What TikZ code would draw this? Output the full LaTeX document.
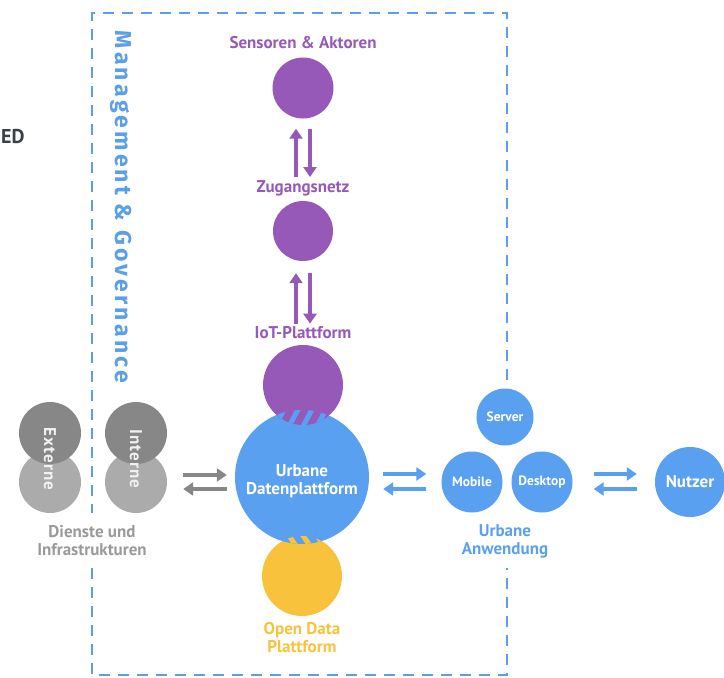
\documentclass[tikz,border=0pt]{standalone}
\usepackage{fontspec}
\setmainfont{PT Sans}
\setsansfont{Fira Sans}
\usetikzlibrary{arrows.meta,positioning}
\definecolor{udpblue}{HTML}{5AA0F0}
\definecolor{boxblue}{HTML}{5B9FE6}
\definecolor{iotpurple}{HTML}{9659B8}
\definecolor{odyellow}{HTML}{F9C23C}
\definecolor{extdark}{HTML}{878787}
\definecolor{extlight}{HTML}{ABABAB}
\definecolor{labgray}{HTML}{9A9A9A}
\definecolor{edgray}{HTML}{3A3F4A}
\tikzset{
  dot/.style={circle,inner sep=0pt,minimum size=#1},
  lbl/.style={font=\bfseries\fontsize{17}{18}\selectfont,align=center,inner sep=0pt},
  inlbl/.style={font=\bfseries\fontsize{13.5}{15}\selectfont,white,inner sep=0pt},
  rotlbl/.style={rotate=-90,inner sep=0pt,white!88!extdark,font=\bfseries\fontsize{17}{19}\selectfont\addfontfeatures{LetterSpace=6}},
  boxline/.style={boxblue,line width=2.6pt,dash pattern=on 11pt off 8pt},
  parr/.style={iotpurple,line width=4.5pt,-{Triangle[length=10pt,width=13pt]}},
  barr/.style={udpblue,line width=4.5pt,-{Triangle[length=10pt,width=13pt]}},
  garr/.style={extdark,line width=4.5pt,-{Triangle[length=10pt,width=13pt]}}
}
\begin{document}
\begin{tikzpicture}[x=1pt,y=-1pt]
\useasboundingbox (0,0) rectangle (724,678);
%Management & Governance
\draw[boxline] (507,380) -- (507,13) -- (92,13) -- (92,513);
\draw[boxline] (92,568) -- (92,675) -- (507,675) -- (507,568);
\node[rotate=-90,boxblue,inner sep=0pt,font=\sffamily\bfseries\fontsize{23}{26}\selectfont\addfontfeatures{LetterSpace=14}] (mgmt) at (121,207) {Management \& Governance};
\node[edgray,inner sep=0pt,anchor=west,font=\bfseries\fontsize{20}{22}\selectfont] (ed) at (1,137) {ED};
%IoT
\node[dot=61pt,fill=iotpurple] (sens) at (303,88) {};
\node[lbl,iotpurple] (senslab) at (303,43) {Sensoren \& Aktoren};
\node[dot=60pt,fill=iotpurple] (zug) at (303,231) {};
\node[lbl,iotpurple] (zuglab) at (303,188) {Zugangsnetz};
\node[dot=80pt,fill=iotpurple] (iot) at (303,385) {};
\node[lbl,iotpurple] (iotlab) at (303,333) {IoT-Plattform};
\draw[parr,shorten <=3pt,shorten >=10pt] ([xshift=-7pt]zuglab.north) -- ([xshift=-7pt]sens.south);
\draw[parr,shorten <=10pt,shorten >=3pt] ([xshift=7pt]sens.south) -- ([xshift=7pt]zuglab.north);
\draw[parr,shorten <=3pt,shorten >=12pt] ([xshift=-7pt]iotlab.north) -- ([xshift=-7pt]zug.south);
\draw[parr,shorten <=12pt,shorten >=3pt] ([xshift=7pt]zug.south) -- ([xshift=7pt]iotlab.north);
%Open Data
\node[dot=80pt,fill=odyellow] (od) at (302,576) {};
\node[lbl,odyellow] (odlab) at (302,638) {Open Data\\Plattform};
%Datenplattform
\node[dot=134pt,fill=udpblue] (daten) at (302,477) {};
\node[lbl,white] (datenlab) at (302,481) {Urbane\\Datenplattform};
%stripes
\begin{scope}
  \clip (303,385) circle[radius=40pt];
  \clip (302,477) circle[radius=67pt];
  \fill[iotpurple] (250,400) rectangle (360,440);
  \foreach \s in {272,286,300,314}
    \draw[udpblue,line width=5pt] (\s,432) -- (\s+16,402);
\end{scope}
\begin{scope}
  \clip (302,477) circle[radius=67pt];
  \clip (302,576) circle[radius=40pt];
  \foreach \s in {270,284,298,312}
    \draw[odyellow,line width=5pt] (\s,528) -- (\s+16,552);
\end{scope}
%Dienste und Infrastrukturen
\node[dot=62pt,fill=extlight] (extb) at (50,482) {};
\node[dot=62pt,fill=extdark] (extt) at (50,433) {};
\node[rotlbl] (extlab) at (50,459) {Externe};
\node[dot=62pt,fill=extlight] (intb) at (136,482) {};
\node[dot=62pt,fill=extdark] (intt) at (136,433) {};
\node[rotlbl] (intlab) at (136,459) {Interne};
\node[lbl,labgray] (dilab) at (92,541) {Dienste und\\Infrastrukturen};
\draw[garr,shorten <=16pt,shorten >=8pt] ([yshift=2pt]daten.west -| intb.east) -- ([yshift=2pt]daten.west);
\draw[garr,shorten <=8pt,shorten >=16pt] ([yshift=-12pt]daten.west) -- ([yshift=-12pt]daten.west -| intb.east);
%Urbane Anwendung
\node[dot=57pt,fill=udpblue] (server) at (505,417) {};
\node[inlbl] at (server) {Server};
\node[dot=61pt,fill=udpblue] (mobile) at (472,482) {};
\node[inlbl] at (mobile) {Mobile};
\node[dot=61pt,fill=udpblue] (desktop) at (542,482) {};
\node[inlbl] at (desktop) {Desktop};
\node[lbl,udpblue] (anwlab) at (505,541) {Urbane\\Anwendung};
\draw[barr,shorten <=14pt,shorten >=15pt] ([yshift=3pt]daten.east) -- ([yshift=3pt]daten.east -| mobile.west);
\draw[barr,shorten <=15pt,shorten >=14pt] ([yshift=-12pt]daten.east -| mobile.west) -- ([yshift=-12pt]daten.east);
%Nutzer
\node[dot=70pt,fill=udpblue] (nutzer) at (690,482) {};
\node[inlbl,font=\bfseries\fontsize{17}{19}\selectfont] at (nutzer) {Nutzer};
\draw[barr,shorten <=21pt,shorten >=18pt] ([yshift=8pt]nutzer.west -| desktop.east) -- ([yshift=8pt]nutzer.west);
\draw[barr,shorten <=18pt,shorten >=21pt] ([yshift=-7pt]nutzer.west) -- ([yshift=-7pt]nutzer.west -| desktop.east);
\end{tikzpicture}
\end{document}
